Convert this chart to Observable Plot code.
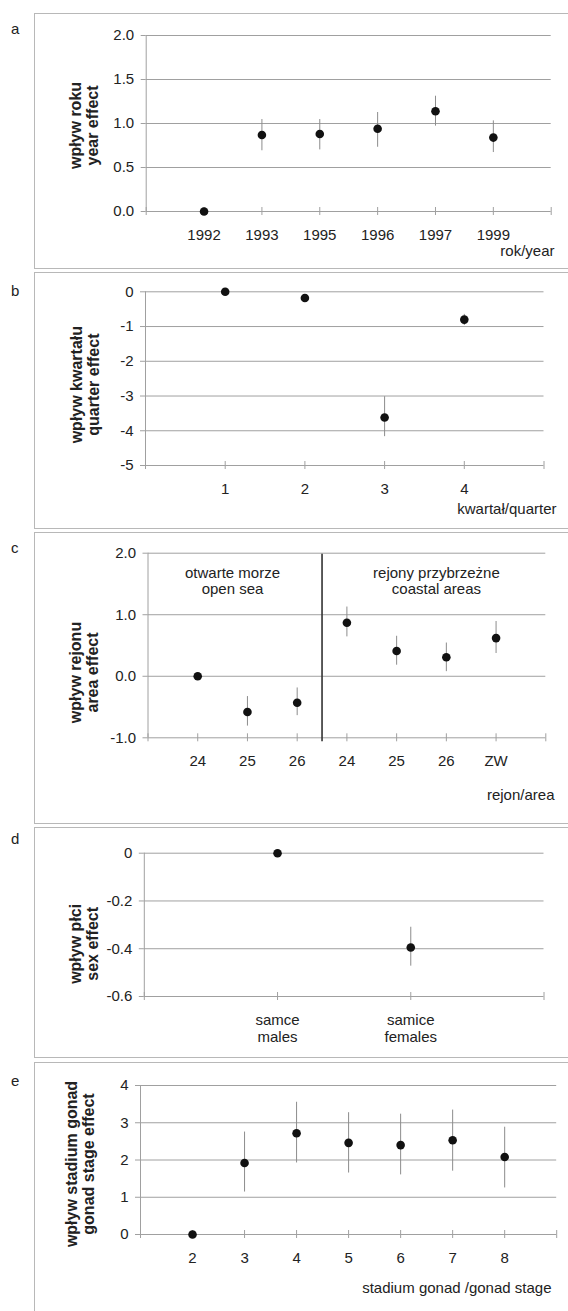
<!DOCTYPE html>
<html><head><meta charset="utf-8">
<script src="https://cdn.jsdelivr.net/npm/d3@7"></script>
<script src="https://cdn.jsdelivr.net/npm/@observablehq/plot@0.6"></script>
<style>
body{margin:0;background:#fff;font-family:"Liberation Sans",Arial,sans-serif;}
#page{position:relative;width:568px;height:1311px;overflow:hidden;background:#fff;}
.box{position:absolute;left:34px;width:600px;border:1px solid #b8b8b8;box-sizing:border-box;}
.letter{position:absolute;left:11px;font-size:15px;color:#222;line-height:15px;}
.chart{position:absolute;left:0;}
</style></head><body><div id="page"></div>
<script>
// ---- data ----
const yearCats = ["1992","1993","1995","1996","1997","1999"];
const yearEst  = [0, 0.87, 0.88, 0.94, 1.14, 0.84];
const yearLo   = [null, 0.69, 0.70, 0.73, 0.97, 0.67];
const yearHi   = [null, 1.045, 1.045, 1.125, 1.31, 1.03];
const yearTicks = [0, 0.5, 1.0, 1.5, 2.0];

const quarterCats = ["1","2","3","4"];
const quarterEst  = [0, -0.18, -3.62, -0.80];
const quarterLo   = [null, null, -4.17, -0.97];
const quarterHi   = [null, null, -3.02, -0.65];
const quarterTicks = [0, -1, -2, -3, -4, -5];

const areaCats = ["24","25","26","24","25","26","ZW"];
const areaEst  = [0, -0.58, -0.43, 0.87, 0.41, 0.31, 0.62];
const areaLo   = [null, -0.81, -0.64, 0.64, 0.18, 0.075, 0.37];
const areaHi   = [null, -0.33, -0.19, 1.125, 0.65, 0.54, 0.89];
const areaTicks = [-1.0, 0.0, 1.0, 2.0];
const areaGroups = ["otwarte morze\nopen sea", "rejony przybrzeżne\ncoastal areas"];
const areaGroupX = [1.7, 5.8];
const areaGroupY = 1.55;
const openSeaCount = 3;

const sexCats = ["samce\nmales", "samice\nfemales"];
const sexEst  = [0, -0.395];
const sexLo   = [null, -0.473];
const sexHi   = [null, -0.31];
const sexTicks = [0, -0.2, -0.4, -0.6];

const stageCats = ["2","3","4","5","6","7","8"];
const stageEst  = [0, 1.92, 2.72, 2.46, 2.40, 2.53, 2.08];
const stageLo   = [null, 1.14, 1.92, 1.65, 1.60, 1.70, 1.25];
const stageHi   = [null, 2.75, 3.55, 3.27, 3.23, 3.34, 2.88];
const stageTicks = [0, 1, 2, 3, 4];

// ---- drawing ----
const FONT = '"Liberation Sans", Arial, sans-serif';
const GRID = "#a0a0a0";
const fmtHyphen = d => (d < 0 ? "-" : "") + Math.abs(d);
const fmt1 = d => d.toFixed(1);

function panel(o) {
  const n = o.cats.length;
  const pts = o.cats.map((c, i) => ({x: i + 1, v: o.est[i], lo: o.lo[i], hi: o.hi[i]}));
  const bars = pts.filter(d => d.lo != null);
  const ymin = d3.min(o.yTicks), ymax = d3.max(o.yTicks);
  const W = 568;
  const frameBottom = o.height - o.mb;
  return Plot.plot({
    width: W, height: o.height,
    marginTop: o.mt, marginBottom: o.mb, marginLeft: o.ml, marginRight: o.mr,
    style: {fontFamily: FONT, fontSize: "15px", color: "#222", background: "transparent", overflow: "visible"},
    x: {domain: [0, n + 1], axis: null},
    y: {domain: [ymin, ymax], axis: null},
    marks: [
      Plot.ruleY(o.yTicks, {stroke: GRID, strokeWidth: 1}),
      Plot.ruleX([0], {stroke: GRID, strokeWidth: 1}),
      Plot.ruleX(d3.range(0, n + 2), {y1: ymin, y2: ymin, insetTop: -4, insetBottom: -4, stroke: GRID}),
      Plot.axisY({ticks: o.yTicks, tickFormat: o.yFmt, tickSize: 5, tickPadding: 7, color: "#222", stroke: GRID, label: null, fontSize: 15}),
      Plot.axisX({ticks: d3.range(1, n + 1), tickFormat: i => o.cats[i - 1], tickSize: 0, tickPadding: 16, color: "#222", label: null, fontSize: 15, lineHeight: 1.15}),
      ...(o.extra || []),
      Plot.ruleX(bars, {x: "x", y1: "lo", y2: "hi", stroke: "#8c8c8c", strokeWidth: 1}),
      Plot.dot(pts, {x: "x", y: "v", r: 4.3, fill: "#111", stroke: null}),
      Plot.text([o.yLabel], {frameAnchor: "left", text: d => d, rotate: -90, dx: o.labelX - o.ml, dy: o.labelDy,
        fontWeight: "bold", fontSize: 16, lineHeight: 1.05, textAnchor: "middle", lineAnchor: "middle", fill: "#222"}),
      ...(o.xTitle ? [Plot.text([o.xTitle], {frameAnchor: "bottom-right", text: d => d, textAnchor: "end",
        dx: o.titleRight - (W - o.mr), dy: o.titleY - (o.top + frameBottom), fontSize: 15, fill: "#222"})] : [])
    ]
  });
}

const panels = [
  {letter: "a", top: 13, height: 256, letterY: 21,
   cats: yearCats, est: yearEst, lo: yearLo, hi: yearHi, yTicks: yearTicks, yFmt: fmt1,
   mt: 22, mb: 58, ml: 145.7, mr: 17.3,
   yLabel: "wpływ roku\nyear effect", labelX: 84, labelDy: 2,
   xTitle: "rok/year", titleRight: 554, titleY: 255},
  {letter: "b", top: 272, height: 257, letterY: 283,
   cats: quarterCats, est: quarterEst, lo: quarterLo, hi: quarterHi, yTicks: quarterTicks, yFmt: fmtHyphen,
   mt: 19.3, mb: 64, ml: 145, mr: 24.5,
   yLabel: "wpływ kwartału\nquarter effect", labelX: 85, labelDy: 6,
   xTitle: "kwartał/quarter", titleRight: 556, titleY: 513},
  {letter: "c", top: 532, height: 292, letterY: 540,
   cats: areaCats, est: areaEst, lo: areaLo, hi: areaHi, yTicks: areaTicks, yFmt: fmt1,
   mt: 20.7, mb: 86.7, ml: 147.5, mr: 22.7,
   yLabel: "wpływ rejonu\narea effect", labelX: 84, labelDy: 27,
   xTitle: "rejon/area", titleRight: 554, titleY: 799,
   extra: [
     Plot.ruleX([openSeaCount + 0.5], {y1: 2.0, y2: -1.0, insetTop: 1, insetBottom: -4, stroke: "#333", strokeWidth: 1.6}),
     Plot.text(areaGroups, {x: (d, i) => areaGroupX[i], y: areaGroupY, text: d => d, fontSize: 15, lineHeight: 1.1, fill: "#222"})
   ]},
  {letter: "d", top: 827, height: 231, letterY: 831,
   cats: sexCats, est: sexEst, lo: sexLo, hi: sexHi, yTicks: sexTicks, yFmt: fmtHyphen,
   mt: 25.7, mb: 62, ml: 143.8, mr: 24.5,
   yLabel: "wpływ płci\nsex effect", labelX: 84, labelDy: 19},
  {letter: "e", top: 1062, height: 249, letterY: 1073,
   cats: stageCats, est: stageEst, lo: stageLo, hi: stageHi, yTicks: stageTicks, yFmt: fmtHyphen,
   mt: 23, mb: 77, ml: 140, mr: 11.8,
   yLabel: "wpływ stadium gonad\ngonad stage effect", labelX: 80, labelDy: 4,
   xTitle: "stadium gonad /gonad stage", titleRight: 551, titleY: 1292}
];

const page = document.getElementById("page");
for (const p of panels) {
  const box = document.createElement("div");
  box.className = "box";
  box.style.top = p.top + "px";
  box.style.height = (p.letter === "e" ? 300 : p.height) + "px";
  page.appendChild(box);
  const let_ = document.createElement("div");
  let_.className = "letter";
  let_.style.top = p.letterY + "px";
  let_.textContent = p.letter;
  page.appendChild(let_);
  const svg = panel(p);
  svg.classList.add("chart");
  svg.style.top = p.top + "px";
  svg.style.maxWidth = "none";
  page.appendChild(svg);
}
</script></body></html>
